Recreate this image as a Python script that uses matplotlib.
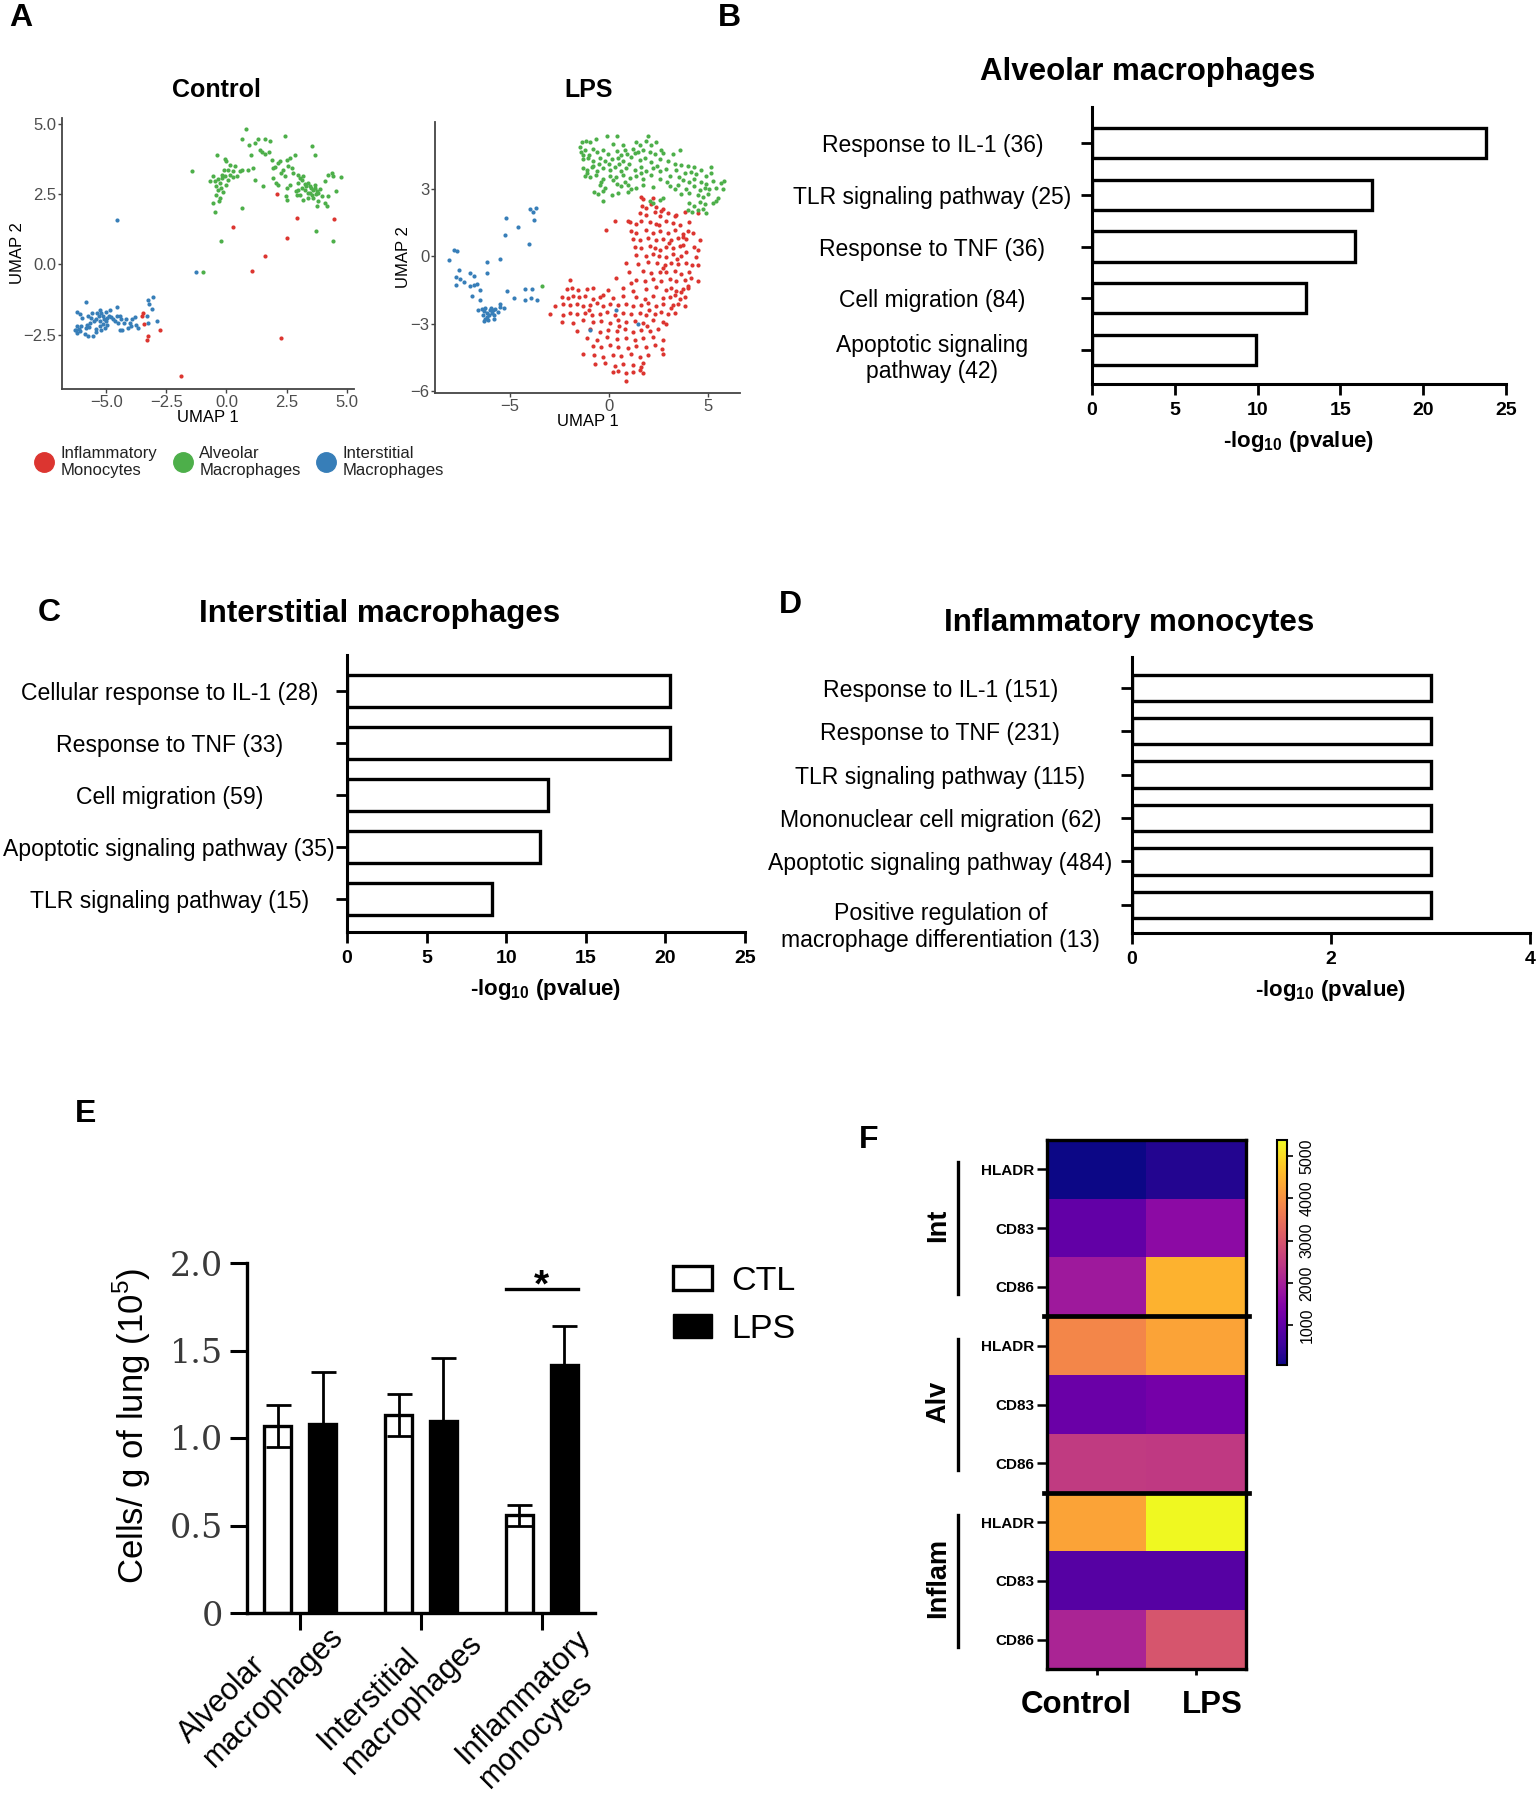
import numpy as np
import matplotlib
matplotlib.use('Agg')
import matplotlib.pyplot as plt
from matplotlib import font_manager
from matplotlib.lines import Line2D
from matplotlib.patches import Patch
from matplotlib.colors import Normalize
from matplotlib.transforms import ScaledTranslation, blended_transform_factory

W, H = 1536, 1800

plt.rcParams['font.family'] = ['Liberation Sans', 'DejaVu Sans']
plt.rcParams['mathtext.fontset'] = 'custom'
plt.rcParams['mathtext.rm'] = 'Liberation Sans'
plt.rcParams['mathtext.bf'] = 'Liberation Sans:bold'

installed = {f.name for f in font_manager.fontManager.ttflist}
HAS_NARROW = 'Liberation Sans Narrow' in installed
NARROW = ['Liberation Sans Narrow', 'Liberation Sans'] if HAS_NARROW else ['Liberation Sans']

# ---------------- A: UMAP ----------------
ctl_inflam = [(2.11, 2.50), (2.92, 1.65), (4.49, 1.61), (0.28, 1.33), (2.50, 0.94), (1.60, 0.28),
              (1.08, -0.23), (2.29, -2.62), (-1.88, -3.98), (-3.47, -1.73), (-3.50, -1.85),
              (-3.43, -2.11), (-3.26, -2.54), (-3.33, -2.68), (-2.75, -2.35)]
ctl_alveolar = [(-1.43, 3.31), (-0.39, 3.87), (-0.07, 3.74), (0.0, 3.66), (0.07, 3.36), (-0.11, 3.36),
                (0.14, 3.19), (-0.06, 3.13), (-0.56, 3.15), (-0.67, 2.95), (-0.49, 2.95), (-0.35, 3.03),
                (-0.25, 2.89), (-0.42, 2.80), (-0.21, 2.71), (-0.35, 2.65), (-0.44, 2.48), (-0.25, 2.36),
                (-0.31, 2.24), (-0.56, 2.18), (-0.46, 1.86), (-0.21, 0.82), (-0.97, -0.26), (0.28, 3.10),
                (0.44, 3.15), (0.56, 3.31), (0.07, 3.01), (-0.14, 2.56), (0.63, 2.00), (0.90, 3.36),
                (1.11, 3.42), (1.04, 3.90), (0.93, 4.23), (1.49, 3.98), (1.60, 3.93), (1.78, 3.98),
                (1.88, 3.72), (1.50, 2.80), (1.92, 3.07), (2.06, 2.89), (2.15, 2.83), (2.22, 3.66),
                (2.29, 3.25), (2.36, 3.36), (2.53, 3.72), (2.57, 3.48), (2.71, 3.42), (2.75, 3.25),
                (2.85, 3.87), (2.43, 3.13), (2.50, 2.71), (2.47, 2.42), (2.50, 2.28), (2.99, 3.19),
                (3.06, 3.07), (3.13, 2.99), (3.19, 3.13), (2.99, 2.89), (3.26, 2.87), (3.33, 2.77),
                (3.40, 2.89), (3.47, 2.80), (3.54, 2.71), (3.61, 2.63), (3.68, 2.71), (3.75, 2.59),
                (3.82, 2.55), (3.89, 2.67), (3.72, 2.50), (3.58, 2.48), (3.40, 2.53), (3.26, 2.63),
                (3.13, 2.71), (2.99, 2.65), (2.92, 2.48), (3.19, 2.30), (3.40, 2.36), (3.61, 2.36),
                (3.82, 2.24), (3.75, 2.06), (3.96, 2.44), (4.10, 2.18), (4.17, 2.06), (4.24, 2.42),
                (4.38, 3.25), (4.42, 3.13), (4.24, 3.19), (4.75, 3.10), (4.10, 2.95), (3.57, 4.22),
                (3.68, 3.90), (3.72, 1.17), (4.44, 0.82), (4.58, 2.59), (1.94, 3.42), (2.15, 3.60),
                (2.64, 3.78), (1.18, 4.31), (1.39, 4.07), (0.35, 3.48), (0.28, 3.31), (0.14, 3.54),
                (-0.17, 3.19), (0.0, 2.83), (-0.17, 3.07), (3.47, 2.53), (3.68, 2.83), (3.06, 2.48),
                (2.64, 2.83), (0.81, 4.81), (0.63, 4.47), (1.32, 4.47), (1.60, 4.47), (1.81, 4.40),
                (2.43, 4.57), (0.63, 3.35), (1.20, 3.00), (2.02, 3.45), (2.90, 2.60)]
ctl_interstitial = [(-4.56, 1.59), (-1.29, -0.28), (-5.83, -1.34), (-6.22, -1.69), (-6.08, -1.76),
                    (-5.76, -1.85), (-5.63, -1.91), (-5.39, -1.73), (-5.28, -1.64), (-5.21, -1.73),
                    (-5.14, -1.82), (-5.31, -1.85), (-5.42, -1.96), (-5.53, -2.02), (-5.67, -2.08),
                    (-5.81, -2.14), (-5.72, -2.24), (-5.86, -2.26), (-6.04, -2.20), (-6.14, -2.30),
                    (-6.28, -2.35), (-6.22, -2.44), (-6.11, -2.38), (-5.90, -2.47), (-5.76, -2.54),
                    (-5.56, -2.54), (-5.42, -2.42), (-5.44, -2.30), (-5.28, -2.20), (-5.14, -2.12),
                    (-5.03, -2.02), (-4.97, -1.91), (-4.89, -1.82), (-4.79, -1.87), (-4.72, -1.96),
                    (-5.11, -1.96), (-5.25, -2.02), (-4.97, -2.14), (-5.07, -2.26), (-5.24, -2.35),
                    (-4.58, -1.50), (-4.56, -1.85), (-4.65, -2.02), (-4.51, -2.08), (-4.38, -1.96),
                    (-4.42, -1.85), (-4.28, -2.08), (-4.44, -2.35), (-4.35, -2.33), (-4.17, -1.96),
                    (-4.00, -2.08), (-3.92, -1.96), (-3.82, -1.87), (-3.96, -2.20), (-3.75, -2.14),
                    (-3.68, -2.26), (-4.10, -2.26), (-3.26, -1.26), (-3.08, -1.16), (-3.22, -1.41),
                    (-3.10, -1.58), (-3.33, -1.85), (-2.89, -2.02), (-3.26, -2.08), (-4.86, -1.61),
                    (-5.03, -1.70), (-5.58, -1.73), (-6.00, -1.91), (-6.32, -2.32), (-6.21, -2.20)]

lps_inflam = [(1.62, 2.65), (1.71, 2.55), (2.21, 2.60), (1.67, 2.25), (1.88, 2.15), (2.13, 2.30),
              (2.38, 2.20), (2.71, 2.10), (0.95, 1.55), (1.54, 1.90), (1.88, 1.85), (2.29, 1.95),
              (2.55, 1.80), (2.96, 1.90), (3.38, 1.85), (3.80, 1.95), (4.47, 1.90), (0.28, 1.55),
              (1.04, 1.50), (1.37, 1.45), (1.62, 1.55), (2.04, 1.50), (2.38, 1.42), (2.88, 1.55),
              (3.22, 1.48), (3.55, 1.40), (4.05, 1.50), (-0.17, 1.15), (1.12, 1.10), (1.37, 1.05),
              (1.88, 1.15), (2.21, 1.02), (2.55, 1.12), (2.96, 1.05), (3.30, 1.15), (3.72, 1.00),
              (3.97, 1.10), (4.22, 1.05), (1.21, 0.75), (1.54, 0.70), (1.96, 0.80), (2.38, 0.72),
              (2.71, 0.78), (3.13, 0.70), (3.47, 0.80), (3.72, 0.85), (3.85, 0.75), (4.56, 0.70),
              (1.29, 0.40), (1.62, 0.35), (2.04, 0.45), (2.29, 0.38), (2.55, 0.30), (2.88, 0.42),
              (3.22, 0.35), (3.55, 0.45), (4.30, 0.40), (4.47, 0.30), (1.37, 0.05), (1.88, 0.00),
              (2.21, 0.10), (2.51, 0.02), (2.88, -0.05), (3.22, 0.08), (3.63, 0.00), (4.39, -0.05),
              (0.87, -0.30), (1.46, -0.35), (1.96, -0.25), (2.41, -0.30), (2.80, -0.40), (3.13, -0.28),
              (3.47, -0.35), (3.89, -0.30), (4.47, -0.38), (1.00, -0.70), (1.71, -0.65), (2.13, -0.75),
              (2.55, -0.68), (2.88, -0.72), (3.30, -0.65), (3.63, -0.78), (4.05, -0.70), (-1.98, -1.05),
              (0.34, -0.95), (1.37, -1.05), (1.79, -1.10), (2.21, -1.00), (2.63, -1.08), (3.05, -1.02),
              (3.38, -1.12), (3.80, -1.05), (4.14, -0.98), (4.47, -1.10), (-2.14, -1.45), (-1.89, -1.40),
              (-1.56, -1.50), (-1.14, -1.45), (-0.80, -1.42), (-0.05, -1.48), (0.70, -1.40), (1.21, -1.52),
              (1.88, -1.45), (2.38, -1.38), (2.88, -1.50), (3.13, -1.42), (3.38, -1.55), (3.72, -1.45),
              (3.97, -1.40), (-2.39, -1.80), (-2.06, -1.85), (-1.81, -1.75), (-1.51, -1.82), (-1.22, -1.78),
              (-0.84, -1.88), (-0.47, -1.80), (0.20, -1.85), (0.70, -1.75), (1.37, -1.82), (1.79, -1.90),
              (2.21, -1.78), (2.71, -1.85), (3.05, -1.80), (3.30, -1.72), (3.55, -1.88), (3.80, -1.80),
              (-2.73, -2.20), (-2.34, -2.10), (-1.98, -2.18), (-1.64, -2.12), (-1.31, -2.20), (-0.97, -2.15),
              (-0.64, -2.08), (-0.30, -2.22), (0.03, -2.12), (0.45, -2.18), (0.87, -2.10), (1.21, -2.20),
              (1.62, -2.15), (1.96, -2.08), (2.38, -2.22), (2.71, -2.12), (3.22, -2.18), (3.47, -2.10),
              (3.80, -2.20), (-2.98, -2.55), (-2.31, -2.60), (-1.98, -2.50), (-1.64, -2.58), (-1.22, -2.52),
              (-0.89, -2.62), (-0.47, -2.55), (-0.13, -2.48), (0.28, -2.60), (0.70, -2.52), (1.12, -2.58),
              (1.54, -2.50), (1.88, -2.62), (2.29, -2.55), (2.63, -2.48), (2.96, -2.58), (3.30, -2.52),
              (-2.39, -2.90), (-1.81, -2.95), (-1.31, -2.85), (-0.80, -2.92), (-0.39, -2.88), (0.03, -2.95),
              (0.45, -2.85), (0.87, -2.92), (1.29, -2.88), (1.71, -2.95), (2.21, -2.85), (2.71, -2.92),
              (2.88, -3.00), (-1.64, -3.30), (-0.97, -3.25), (-0.47, -3.35), (-0.05, -3.28), (0.37, -3.32),
              (0.79, -3.25), (1.21, -3.35), (1.62, -3.28), (2.04, -3.30), (2.46, -3.22), (-1.14, -3.65),
              (-0.64, -3.70), (-0.13, -3.60), (0.37, -3.68), (0.87, -3.62), (1.29, -3.70), (1.71, -3.65),
              (2.21, -3.58), (2.71, -3.72), (-0.80, -4.00), (-0.39, -4.05), (0.03, -3.95), (0.45, -4.02),
              (0.95, -4.08), (1.37, -3.98), (1.88, -4.05), (2.29, -3.95), (2.68, -4.10), (-1.31, -4.35),
              (-0.77, -4.40), (-0.30, -4.45), (0.17, -4.38), (0.62, -4.42), (1.12, -4.35), (1.54, -4.48),
              (1.96, -4.40), (2.71, -4.35), (-0.72, -4.80), (-0.22, -4.75), (0.28, -4.85), (0.70, -4.78),
              (1.21, -4.82), (1.58, -4.90), (1.71, -4.75), (0.20, -5.15), (0.45, -5.10), (0.87, -5.20),
              (1.21, -5.12), (1.54, -5.05), (1.71, -5.18), (0.87, -5.55), (2.50, 1.40), (3.00, 0.60),
              (3.40, -0.10), (2.70, -0.50), (3.90, 0.20), (3.60, -1.60), (3.10, -2.30), (2.00, -2.40),
              (1.10, -1.20), (-0.30, -1.70), (-1.00, -2.40), (0.50, -3.10), (1.90, -3.10), (3.70, 0.50),
              (3.30, 1.80), (2.60, 2.00), (4.20, -0.40), (4.00, -1.30)]
lps_alveolar = [(-1.47, 4.85), (-1.39, 5.05), (-1.17, 5.10), (-0.97, 5.05), (-0.67, 5.20), (-0.10, 5.36),
                (0.40, 5.35), (0.20, 5.00), (0.70, 4.95), (1.37, 5.05), (1.54, 4.95), (1.88, 5.10),
                (1.96, 5.32), (2.13, 4.95), (2.38, 5.05), (2.71, 4.60), (-1.44, 4.65), (-1.22, 4.70),
                (-0.84, 4.75), (-0.64, 4.62), (-0.30, 4.70), (-0.05, 4.55), (0.37, 4.68), (0.79, 4.72),
                (0.90, 4.55), (1.21, 4.78), (1.46, 4.62), (1.71, 4.70), (2.04, 4.65), (2.29, 4.52),
                (3.22, 4.55), (3.55, 4.70), (-1.31, 4.30), (-1.06, 4.35), (-0.80, 4.25), (-0.47, 4.38),
                (-0.22, 4.22), (0.12, 4.30), (0.45, 4.35), (0.70, 4.22), (1.12, 4.40), (1.54, 4.28),
                (1.79, 4.35), (2.13, 4.20), (2.55, 4.32), (2.96, 4.25), (3.30, 4.10), (3.63, 4.05),
                (3.97, 4.00), (4.30, 3.95), (5.14, 3.95), (-1.34, 3.90), (-1.14, 3.85), (-0.89, 3.95),
                (-0.64, 3.80), (-0.30, 3.92), (0.03, 3.85), (0.28, 3.95), (0.62, 3.78), (0.87, 3.92),
                (1.29, 3.85), (1.62, 3.95), (1.88, 3.80), (2.21, 3.90), (2.55, 3.78), (2.88, 3.88),
                (3.38, 3.82), (3.80, 3.70), (4.14, 3.75), (4.39, 3.65), (4.64, 3.85), (4.89, 3.55),
                (5.14, 3.70), (-1.22, 3.55), (-0.97, 3.50), (-0.67, 3.62), (-0.30, 3.45), (0.03, 3.58),
                (0.34, 3.50), (0.70, 3.62), (1.04, 3.48), (1.37, 3.55), (1.71, 3.42), (2.13, 3.60),
                (2.55, 3.45), (3.05, 3.55), (3.72, 3.40), (4.05, 3.30), (4.30, 3.45), (4.64, 3.30),
                (4.89, 3.20), (5.23, 3.35), (5.64, 3.25), (5.81, 3.35), (-0.47, 3.15), (-0.22, 3.05),
                (0.37, 3.20), (0.62, 3.10), (0.95, 3.18), (1.37, 3.05), (1.71, 3.15), (2.21, 3.08),
                (3.05, 3.10), (3.47, 3.15), (3.89, 3.00), (4.30, 3.10), (4.56, 2.95), (4.81, 3.05),
                (5.06, 2.98), (5.39, 3.05), (5.73, 3.00), (-0.77, 2.85), (-0.55, 2.75), (-0.30, 2.90),
                (0.12, 2.70), (0.45, 2.80), (0.95, 2.85), (2.71, 2.60), (3.63, 2.75), (4.05, 2.80),
                (4.47, 2.70), (4.72, 2.65), (4.97, 2.75), (5.48, 2.60), (-0.30, 2.45), (2.04, 2.45),
                (2.21, 2.38), (2.55, 2.50), (4.05, 2.35), (4.30, 2.25), (4.56, 2.40), (4.81, 2.30),
                (5.23, 2.35), (5.39, 2.45), (3.97, 2.05), (4.19, 1.95), (4.47, 2.05), (4.72, 2.10),
                (4.89, 1.90), (-1.30, 4.50), (-1.00, 4.50), (-0.80, 4.00), (-0.50, 4.10), (0.00, 4.10),
                (0.50, 4.10), (1.00, 4.10), (-1.10, 3.70), (-0.40, 3.30), (0.20, 3.40), (0.80, 3.30),
                (1.60, 3.70), (2.40, 4.00), (2.90, 3.30), (3.30, 3.00), (3.50, 3.50), (1.30, 4.60),
                (0.60, 4.50), (2.60, 4.70), (1.10, 3.00), (-3.40, -1.30)]
lps_interstitial = [(-8.09, -0.15), (-7.84, 0.27), (-7.67, 0.24), (-7.59, -0.62), (-7.71, -0.92),
                    (-7.51, -0.99), (-7.71, -1.29), (-7.31, -1.14), (-7.04, -0.74), (-6.84, -0.89),
                    (-7.04, -1.33), (-6.81, -1.29), (-6.65, -1.24), (-6.50, -1.51), (-6.92, -1.78),
                    (-6.16, -0.25), (-6.16, -0.74), (-5.53, -0.10), (-6.50, -1.96), (-6.63, -2.37),
                    (-6.42, -2.33), (-6.33, -2.43), (-6.25, -2.28), (-6.16, -2.50), (-6.36, -2.62),
                    (-6.28, -2.77), (-6.19, -2.70), (-6.08, -2.62), (-6.03, -2.37), (-5.96, -2.28),
                    (-5.91, -2.52), (-5.86, -2.40), (-5.83, -2.62), (-6.13, -2.84), (-6.33, -2.87),
                    (-5.75, -2.33), (-5.63, -2.47), (-5.80, -2.77), (-5.53, -2.25), (-5.33, -2.28),
                    (-5.49, -2.13), (-5.16, -1.56), (-4.82, -1.84), (-5.24, 0.96), (-5.21, 1.72),
                    (-4.61, 1.30), (-4.07, 0.53), (-4.02, 2.12), (-3.82, 1.97), (-3.69, 2.16),
                    (-3.77, 1.60), (-4.24, -1.45), (-3.90, -1.44), (-4.24, -1.96), (-3.94, -1.84),
                    (-3.65, -1.96), (-0.97, -3.26), (0.34, -2.37), (1.47, -2.99)]
cell_colors = ['#DC3530', '#4DAF4A', '#377EB8']
cell_names = ['Inflammatory\nMonocytes', 'Alveolar\nMacrophages', 'Interstitial\nMacrophages']

# ---------------- B, C, D: GO terms ----------------
alv_terms = ['Response to IL-1 (36)', 'TLR signaling pathway (25)', 'Response to TNF (36)',
             'Cell migration (84)', 'Apoptotic signaling\npathway (42)']
alv_logp = [23.8, 16.9, 15.9, 12.9, 9.9]
int_terms = ['Cellular response to IL-1 (28)', 'Response to TNF (33)', 'Cell migration (59)',
             'Apoptotic signaling pathway (35)', 'TLR signaling pathway (15)']
int_logp = [20.3, 20.3, 12.6, 12.1, 9.1]
mono_terms = ['Response to IL-1 (151)', 'Response to TNF (231)', 'TLR signaling pathway (115)',
              'Mononuclear cell migration (62)', 'Apoptotic signaling pathway (484)',
              'Positive regulation of\nmacrophage differentiation (13)']
mono_logp = [3.0, 3.0, 3.0, 3.0, 3.0, 3.0]

# ---------------- E: cell counts ----------------
cell_types = ['Alveolar\nmacrophages', 'Interstitial\nmacrophages', 'Inflammatory\nmonocytes']
ctl_mean = [1.07, 1.13, 0.56]
ctl_sem = [0.12, 0.12, 0.06]
lps_mean = [1.08, 1.10, 1.42]
lps_sem = [0.30, 0.36, 0.22]
yticks_e = [0, 0.5, 1.0, 1.5, 2.0]
ytick_labels_e = ['0', '0.5', '1.0', '1.5', '2.0']

# ---------------- F: heatmap ----------------
heat_groups = ['Int', 'Alv', 'Inflam']
heat_markers = ['HLADR', 'CD83', 'CD86']
heat_conditions = ['Control', 'LPS']
heat_values = [[60, 250], [1020, 1600], [1870, 4470],
               [3840, 4260], [1120, 1280], [2500, 2480],
               [4260, 5380], [860, 860], [2080, 2990]]
cbar_ticks = [1000, 2000, 3000, 4000, 5000]

fig = plt.figure(figsize=(W / 100, H / 100), dpi=100)


def add_ax(left, top, right, bottom):
    return fig.add_axes([left / W, 1 - bottom / H, (right - left) / W, (bottom - top) / H])


def fig_text(x, y, s, **kw):
    fig.text(x / W, 1 - y / H, s, ha='center', va='center', **kw)


def shift(label, dx, dy):
    # move a text by dx, dy pixels (dpi = 100); call after tick_params
    label.set_transform(label.get_transform() + ScaledTranslation(dx / 100, -dy / 100, fig.dpi_scale_trans))


def umap_panel(ax, groups, xlim, ylim, xticks, yticks, fmt, ylabel_x):
    for pts, color in groups:
        arr = np.array(pts)
        ax.scatter(arr[:, 0], arr[:, 1], s=9, color=color, linewidths=0)
    ax.set_xlim(*xlim)
    ax.set_ylim(*ylim)
    ax.set_xticks(xticks)
    ax.set_yticks(yticks)
    ax.set_xticklabels([fmt.format(v).replace('-', '\u2212') for v in xticks])
    ax.set_yticklabels([fmt.format(v).replace('-', '\u2212') for v in yticks])
    for s in ['top', 'right']:
        ax.spines[s].set_visible(False)
    for s in ['left', 'bottom']:
        ax.spines[s].set_color('#444444')
        ax.spines[s].set_linewidth(1.3)
    ax.tick_params(colors='#444444', labelcolor='#4d4d4d', labelsize=12, length=3, width=1, pad=1)
    ax.set_xlabel('UMAP 1', fontsize=12, labelpad=0)
    ax.set_ylabel('UMAP 2', fontsize=12)
    ax.yaxis.set_label_coords(ylabel_x, 0.5)


axA1 = add_ax(62, 118, 354, 389)
umap_panel(axA1, [(ctl_alveolar, cell_colors[1]), (ctl_interstitial, cell_colors[2]),
                  (ctl_inflam, cell_colors[0])],
           (-6.85, 5.31), (-4.43, 5.2), [-5.0, -2.5, 0.0, 2.5, 5.0], [-2.5, 0.0, 2.5, 5.0],
           '{:.1f}', -0.125)
axA2 = add_ax(435, 122, 740, 393)
umap_panel(axA2, [(lps_inflam, cell_colors[0]), (lps_alveolar, cell_colors[1]),
                  (lps_interstitial, cell_colors[2])],
           (-8.79, 6.6), (-6.07, 5.96), [-5, 0, 5], [-6, -3, 0, 3], '{:d}', -0.08)
fig_text(216, 90, 'Control', fontsize=18, fontweight='bold')
fig_text(589, 90, 'LPS', fontsize=18, fontweight='bold')

handles = [Line2D([], [], marker='o', ls='', color=c, markersize=14) for c in cell_colors]
fig.legend(handles, cell_names, loc='center left', bbox_to_anchor=(36 / W, 1 - 462 / H),
           ncol=3, frameon=False, fontsize=12, handlelength=1.0, handletextpad=0.5,
           columnspacing=1.0, borderpad=0, borderaxespad=0, labelspacing=0.1,
           labelcolor='#222222')


def go_panel(ax, terms, values, xmax, xticks, ylim, bar_h, fam, lab_size, lab_pad, tick_size):
    y = np.arange(len(values))
    ax.barh(y, values, height=bar_h, color='white', edgecolor='black', linewidth=2.4)
    ax.set_xlim(0, xmax)
    ax.set_ylim(*ylim)
    ax.set_yticks(y)
    ax.set_yticklabels(terms, family=fam, fontsize=lab_size)
    for t in ax.get_yticklabels():
        t.set_ha('center')
        t.set_multialignment('center')
    ax.tick_params(axis='y', length=8, width=2, pad=lab_pad)
    ax.set_xticks(xticks)
    ax.set_xticklabels([str(v) for v in xticks], family=fam, fontweight='bold', fontsize=tick_size)
    ax.tick_params(axis='x', length=8, width=2, pad=5)
    for s in ['top', 'right']:
        ax.spines[s].set_visible(False)
    for s in ['left', 'bottom']:
        ax.spines[s].set_linewidth(2.2)
    ax.set_xlabel(r'-log$_{\mathbf{10}}$ (pvalue)', fontweight='bold', fontsize=16, labelpad=7)


if HAS_NARROW:
    narrow_title, narrow_label, narrow_tick = 25, 19, 15
else:
    narrow_title, narrow_label, narrow_tick = 22.5, 16.6, 14

axB = add_ax(1092, 107, 1506, 384)
go_panel(axB, alv_terms, alv_logp, 25, [0, 5, 10, 15, 20, 25], (4.65, -0.69), 0.58,
         ['Liberation Sans'], 16.5, 107, 14)
shift(axB.get_yticklabels()[-1], 0, 4)
fig_text(1148, 72, 'Alveolar macrophages', fontsize=22.5, fontweight='bold')

axC = add_ax(347, 655, 745, 932)
go_panel(axC, int_terms, int_logp, 25, [0, 5, 10, 15, 20, 25], (4.64, -0.69), 0.61,
         NARROW, narrow_label, 120, narrow_tick)
fig_text(380, 614, 'Interstitial macrophages', fontsize=narrow_title, fontweight='bold', family=NARROW)

axD = add_ax(1132, 657, 1530, 933)
go_panel(axD, mono_terms, mono_logp, 4, [0, 2, 4], (5.65, -0.71), 0.61,
         NARROW, narrow_label, 130, narrow_tick)
shift(axD.get_yticklabels()[-1], 0, 18)
fig_text(1129, 623, 'Inflammatory monocytes', fontsize=narrow_title, fontweight='bold', family=NARROW)

# ---------------- E ----------------
axE = add_ax(247, 1263, 595, 1613)
xe = np.arange(len(cell_types))
off, bw = 0.186, 0.227
ekw = dict(elinewidth=2.0, capthick=2.0, ecolor='black')
axE.bar(xe - off, ctl_mean, bw, color='white', edgecolor='black', linewidth=2.4,
        yerr=ctl_sem, capsize=9, error_kw=ekw)
axE.bar(xe + off, lps_mean, bw, color='black', edgecolor='black', linewidth=2.4,
        yerr=lps_sem, capsize=9, error_kw=ekw)
sig_y = 1.85
axE.plot([xe[2] - off - bw / 2, xe[2] + off + bw / 2], [sig_y, sig_y], color='black', lw=2.4)
axE.text(xe[2], sig_y - 0.085, '*', ha='center', va='bottom', fontsize=28, fontweight='bold')
axE.set_xlim(-0.44, 2.44)
axE.set_ylim(0, 2.0)
axE.set_yticks(yticks_e)
axE.set_yticklabels(ytick_labels_e, family=['DejaVu Serif'], fontsize=24, color='#3a3a3a')
axE.tick_params(axis='y', length=12, width=2.2, pad=5)
axE.set_xticks(xe)
axE.set_xticklabels(cell_types, fontsize=22, rotation=45, ha='center', va='center',
                    rotation_mode='anchor')
axE.tick_params(axis='x', length=12, width=2.2, pad=4)
for t, (dx, dy) in zip(axE.get_xticklabels(), [(-39, 50), (-21, 57), (-7, 74)]):
    t.set_multialignment('left')
    shift(t, dx, dy)
for s in ['top', 'right']:
    axE.spines[s].set_visible(False)
for s in ['left', 'bottom']:
    axE.spines[s].set_linewidth(2.4)
axE.set_ylabel(r'Cells/ g of lung (10$^5$)', fontsize=25)
axE.yaxis.set_label_coords(-0.27, 0.535)
leg_handles = [Patch(facecolor='white', edgecolor='black', linewidth=2.4),
               Patch(facecolor='black', edgecolor='black')]
fig.legend(leg_handles, ['CTL', 'LPS'], loc='upper left', bbox_to_anchor=(673 / W, 1 - 1266 / H),
           frameon=False, fontsize=24.5, handlelength=1.15, handleheight=0.7, handletextpad=0.55,
           labelspacing=0.5, borderpad=0, borderaxespad=0)

# ---------------- F ----------------
axF = add_ax(1047, 1140, 1246, 1669)
hv = np.array(heat_values, dtype=float)
im = axF.imshow(hv, cmap='plasma', aspect='auto', norm=Normalize(hv.min(), hv.max()),
                interpolation='nearest')
for s in axF.spines.values():
    s.set_linewidth(2.4)
for yb in [2.5, 5.5]:
    axF.axhline(yb, xmin=-0.015, xmax=1.015, color='black', lw=3.4, clip_on=False)
axF.set_yticks(np.arange(hv.shape[0]))
axF.set_yticklabels(heat_markers * len(heat_groups), fontsize=11, fontweight='bold')
axF.tick_params(axis='y', length=7, width=1.8, pad=2)
axF.set_xticks(np.arange(hv.shape[1]))
axF.set_xticklabels(heat_conditions, fontsize=22.5, fontweight='bold')
axF.tick_params(axis='x', length=4, width=2, pad=11)
for t, dx in zip(axF.get_xticklabels(), [-20, 16]):
    shift(t, dx, 0)
tr = blended_transform_factory(axF.transAxes, axF.transData)
for i, g in enumerate(heat_groups):
    mid = i * 3 + 1
    axF.plot([-0.447, -0.447], [mid - 1.12, mid + 1.12], color='black', lw=2.4,
             transform=tr, clip_on=False)
    axF.text(-0.548, mid - 0.05, g, rotation=90, ha='center', va='center', fontsize=19.5,
             fontweight='bold', transform=tr)

cax = add_ax(1277, 1140, 1287, 1365)
cb = fig.colorbar(im, cax=cax, ticks=cbar_ticks)
cb.outline.set_linewidth(1.5)
cb.ax.tick_params(labelsize=11.5, length=4, width=1.2, pad=5)
for t in cb.ax.get_yticklabels():
    t.set_rotation(90)
    t.set_va('center')

# panel letters
for letter, x, y in [('A', 21, 18), ('B', 729, 18), ('C', 49, 613), ('D', 790, 605),
                     ('E', 86, 1114), ('F', 869, 1140)]:
    fig_text(x, y, letter, fontsize=23, fontweight='bold')

fig.savefig('out.png', dpi=100)
